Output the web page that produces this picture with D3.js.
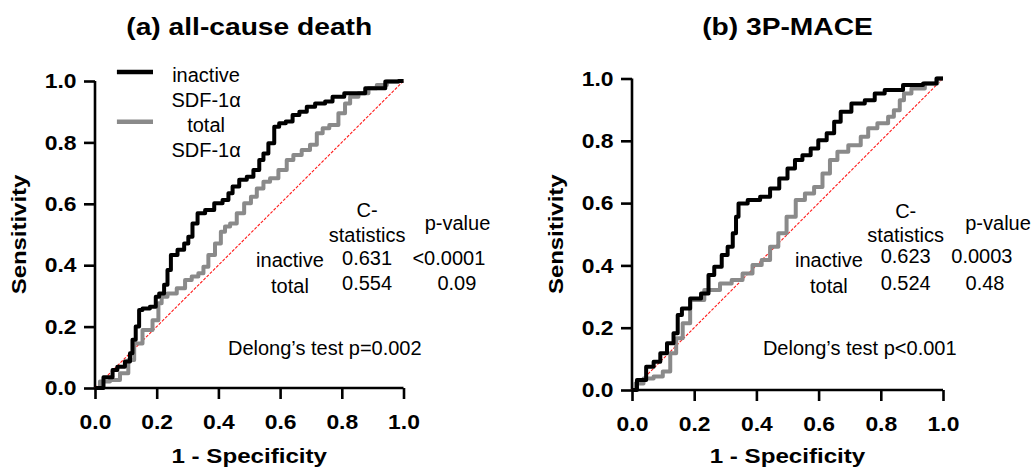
<!DOCTYPE html>
<html>
<head>
<meta charset="utf-8">
<script src="https://cdn.jsdelivr.net/npm/d3@7"></script>
<style>
  body { margin: 0; background: #fff; }
  svg { font-family: "Liberation Sans", Arial, sans-serif; }
</style>
</head>
<body>
<svg id="chart" width="1033" height="470"></svg>
<script>
// axis ticks
const ticks = [0, 0.2, 0.4, 0.6, 0.8, 1.0];

// (a) all-cause death  -- [1 - specificity, sensitivity]
const deathInactive = [
  [0, 0], [0.055, 0.035], [0.059, 0.059], [0.086, 0.069], [0.108, 0.086], [0.119, 0.113],
  [0.124, 0.157], [0.14, 0.2], [0.146, 0.254], [0.162, 0.259], [0.194, 0.265], [0.2, 0.297],
  [0.216, 0.308], [0.232, 0.336], [0.238, 0.384], [0.254, 0.433], [0.281, 0.45], [0.297, 0.471],
  [0.308, 0.493], [0.324, 0.536], [0.341, 0.569],
  [0.373, 0.58], [0.4, 0.602], [0.427, 0.612], [0.438, 0.634], [0.454, 0.656], [0.481, 0.678],
  [0.503, 0.688], [0.524, 0.71], [0.541, 0.743], [0.551, 0.764], [0.573, 0.797], [0.589, 0.851],
  [0.605, 0.862], [0.632, 0.868], [0.649, 0.889], [0.676, 0.9], [0.697, 0.916], [0.73, 0.927],
  [0.762, 0.933], [0.778, 0.949], [0.838, 0.96], [0.914, 0.976], [0.968, 0.998], [1, 1]
];
const deathTotal = [
  [0, 0], [0.032, 0.021], [0.065, 0.026], [0.097, 0.048], [0.119, 0.091], [0.135, 0.145],
  [0.173, 0.189], [0.2, 0.221], [0.211, 0.276], [0.221, 0.297], [0.249, 0.308], [0.281, 0.325],
  [0.303, 0.352], [0.324, 0.363], [0.346, 0.374], [0.357, 0.395], [0.378, 0.433], [0.4, 0.471],
  [0.416, 0.509], [0.427, 0.526], [0.449, 0.536], [0.47, 0.569], [0.497, 0.602], [0.514, 0.623],
  [0.535, 0.65], [0.557, 0.672], [0.578, 0.683], [0.611, 0.71], [0.632, 0.743], [0.654, 0.759],
  [0.686, 0.775], [0.708, 0.792], [0.73, 0.83], [0.746, 0.846], [0.773, 0.857], [0.805, 0.895],
  [0.816, 0.927], [0.838, 0.949], [0.87, 0.96], [0.903, 0.976], [0.924, 0.987], [0.968, 0.998], [1, 1]
];

// (b) 3P-MACE
const maceInactive = [
  [0, 0], [0.032, 0.032], [0.059, 0.075], [0.08, 0.091], [0.102, 0.118], [0.123, 0.15],
  [0.144, 0.182], [0.15, 0.241], [0.171, 0.262], [0.203, 0.294], [0.241, 0.31], [0.251, 0.369],
  [0.278, 0.396], [0.299, 0.433], [0.316, 0.46], [0.332, 0.503], [0.337, 0.556], [0.348, 0.599],
  [0.396, 0.61], [0.428, 0.62], [0.46, 0.647], [0.487, 0.679], [0.513, 0.711], [0.535, 0.738],
  [0.561, 0.754], [0.588, 0.775], [0.61, 0.802], [0.642, 0.824], [0.658, 0.861], [0.684, 0.893],
  [0.727, 0.92], [0.77, 0.93], [0.791, 0.952], [0.834, 0.963], [0.909, 0.979], [0.963, 0.984],
  [0.995, 1], [1, 1]
];
const maceTotal = [
  [0, 0], [0.021, 0.021], [0.053, 0.037], [0.086, 0.043], [0.112, 0.059], [0.134, 0.118],
  [0.15, 0.166], [0.176, 0.214], [0.198, 0.289], [0.267, 0.321], [0.299, 0.342], [0.342, 0.353],
  [0.369, 0.374], [0.406, 0.401], [0.428, 0.417], [0.46, 0.46], [0.481, 0.503], [0.513, 0.556],
  [0.54, 0.61], [0.572, 0.631], [0.599, 0.652], [0.626, 0.695], [0.647, 0.738], [0.674, 0.765],
  [0.717, 0.786], [0.754, 0.813], [0.765, 0.84], [0.813, 0.856], [0.834, 0.877], [0.85, 0.898],
  [0.872, 0.93], [0.877, 0.952], [0.92, 0.968], [0.963, 0.984], [1, 1]
];

// C-statistics table
const statRows = ["inactive", "total"];
const deathC = ["0.631", "0.554"];
const deathP = ["<0.0001", "0.09"];
const maceC = ["0.623", "0.524"];
const maceP = ["0.0003", "0.48"];

const legendLabels = [["inactive", "SDF-1\u03b1"], ["total", "SDF-1\u03b1"]];
const colors = { inactive: "#000000", total: "#8a8a8a" };

const svg = d3.select("#chart");

// bold labels in the original are set a bit wider than Arial bold
function wideText(g, x, y, s, size, sx, rot) {
  return g.append("text")
    .attr("transform", `translate(${x},${y})${rot ? " rotate(-90)" : ""} scale(${sx},1)`)
    .attr("text-anchor", "middle")
    .style("font-size", size + "px").style("font-weight", "bold")
    .text(s);
}

function drawPanel(opt) {
  const x = d3.scaleLinear().domain([0, 1]).range(opt.xr);
  const y = d3.scaleLinear().domain([0, 1]).range(opt.yr);
  const g = svg.append("g");
  const cx = (opt.xr[0] + opt.xr[1]) / 2;

  wideText(g, cx, 35, opt.title, 23.5, 1.2);

  // axes
  const xAxis = g.append("g")
    .attr("transform", `translate(0,${opt.yr[0]})`)
    .call(d3.axisBottom(x).tickValues(ticks).tickFormat(d3.format(".1f")).tickSize(11).tickPadding(8));
  const yAxis = g.append("g")
    .attr("transform", `translate(${opt.xr[0]},0)`)
    .call(d3.axisLeft(y).tickValues(ticks).tickFormat(d3.format(".1f")).tickSize(11).tickPadding(6));
  [xAxis, yAxis].forEach(a => {
    a.select(".domain").attr("stroke", "#000").attr("stroke-width", 2.6);
    a.selectAll(".tick line").attr("stroke", "#000").attr("stroke-width", 2.6);
    a.selectAll(".tick text")
      .attr("fill", "#000")
      .attr("transform", "scale(1.09,1)")
      .style("font-size", "21px").style("font-weight", "bold")
      .style("font-family", "'Liberation Sans', Arial, sans-serif");
  });
  xAxis.select(".domain").attr("d", `M${opt.xr[0]},0H${opt.xr[1]}`);
  yAxis.select(".domain").attr("d", `M0,${opt.yr[0]}V${opt.yr[1]}`);
  xAxis.selectAll(".tick text").attr("dy", "1.05em");

  wideText(g, cx, 463, "1 - Specificity", 21, 1.15);
  wideText(g, opt.xr[0] - 69, (opt.yr[0] + opt.yr[1]) / 2, "Sensitivity", 21, 1.14, true);

  // reference line
  g.append("line")
    .attr("x1", x(0)).attr("y1", y(0)).attr("x2", x(1)).attr("y2", y(1))
    .attr("stroke", "#ff1a1a").attr("stroke-width", 1.1)
    .attr("stroke-dasharray", "3,1.5");

  const line = d3.line().x(d => x(d[0])).y(d => y(d[1])).curve(d3.curveStep);
  g.append("path").datum(opt.total)
    .attr("d", line).attr("fill", "none")
    .attr("stroke", colors.total).attr("stroke-width", 4).attr("stroke-linejoin", "round");
  g.append("path").datum(opt.inactive)
    .attr("d", line).attr("fill", "none")
    .attr("stroke", colors.inactive).attr("stroke-width", 4).attr("stroke-linejoin", "round");

  // stats table
  const t = opt.table;
  const txt = (xv, yv, s, anchor) => g.append("text")
    .attr("x", x(xv)).attr("y", y(yv))
    .attr("text-anchor", anchor || "middle")
    .style("font-size", "20px")
    .text(s);
  txt(t.cCol, t.head1, "C-");
  txt(t.cCol, t.head2, "statistics");
  txt(t.pHead, t.pHeadY, "p-value");
  statRows.forEach((r, i) => {
    txt(t.rowCol, t.rows[i], r);
    txt(t.cCol, t.vals[i], opt.c[i]);
    txt(t.pCol[i], t.vals[i], opt.p[i]);
  });
  txt(t.delX, t.delY, opt.delong, "start");

  if (opt.legend) {
    const L = opt.legend;
    legendLabels.forEach((lab, i) => {
      const key = i === 0 ? "inactive" : "total";
      g.append("line")
        .attr("x1", x(L.x0)).attr("x2", x(L.x1))
        .attr("y1", y(L.lineY[i])).attr("y2", y(L.lineY[i]))
        .attr("stroke", colors[key]).attr("stroke-width", 4.5);
      lab.forEach((s, j) => txt(L.textX, L.textY[i * 2 + j], s));
    });
  }
}

drawPanel({
  title: "(a) all-cause death",
  xr: [95, 403.5], yr: [388, 81],
  inactive: deathInactive, total: deathTotal,
  c: deathC, p: deathP,
  delong: "Delong\u2019s test p=0.002",
  table: {
    cCol: 0.882, head1: 0.558, head2: 0.477,
    pHead: 1.175, pHeadY: 0.515,
    rowCol: 0.632, rows: [0.395, 0.309],
    vals: [0.4, 0.319], pCol: [1.147, 1.173],
    delX: 0.431, delY: 0.107
  },
  legend: {
    x0: 0.071, x1: 0.188, lineY: [1.029, 0.867],
    textX: 0.36, textY: [0.998, 0.916, 0.835, 0.753]
  }
});

drawPanel({
  title: "(b) 3P-MACE",
  xr: [632, 943], yr: [390, 78.5],
  inactive: maceInactive, total: maceTotal,
  c: maceC, p: maceP,
  delong: "Delong\u2019s test p<0.001",
  table: {
    cCol: 0.88, head1: 0.552, head2: 0.476,
    pHead: 1.177, pHeadY: 0.514,
    rowCol: 0.633, rows: [0.396, 0.311],
    vals: [0.408, 0.321], pCol: [1.125, 1.135],
    delX: 0.421, delY: 0.112
  }
});
</script>
</body>
</html>
